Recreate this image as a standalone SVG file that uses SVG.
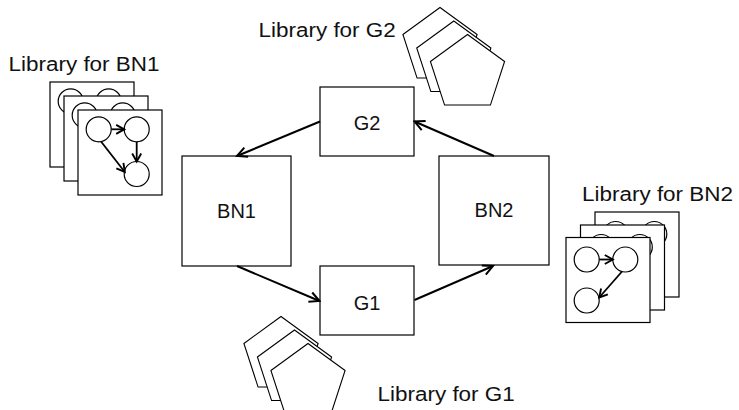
<svg xmlns="http://www.w3.org/2000/svg" width="739" height="410" viewBox="0 0 739 410">
  <style>
    .box { fill: #fff; stroke: #000; stroke-width: 1.2; }
    .lbl { font-family: "Liberation Sans", Arial, sans-serif; font-size: 20px; fill: #111; }
    .lib { font-family: "Liberation Sans", Arial, sans-serif; font-size: 21px; fill: #111; }
    .sheet { fill: #fff; stroke: #000; stroke-width: 1.2; }
    .dot { fill: #fff; stroke: #000; stroke-width: 1.2; }
    .edge { fill: none; stroke: #000; stroke-width: 2; marker-end: url(#head); }
    .link { fill: none; stroke: #000; stroke-width: 1.8; marker-end: url(#headSmall); }
    .pent { fill: #fff; stroke: #000; stroke-width: 1.1; }
  </style>
  <defs>
    <marker id="head" markerUnits="userSpaceOnUse" markerWidth="14" markerHeight="14" viewBox="0 0 14 14" refX="12" refY="7" orient="auto">
      <path d="M2,2 L12,7 L2,12" fill="none" stroke="#000" stroke-width="2"/>
    </marker>
    <marker id="headSmall" markerUnits="userSpaceOnUse" markerWidth="12" markerHeight="12" viewBox="0 0 12 12" refX="10" refY="6" orient="auto">
      <path d="M2,1.5 L10,6 L2,10.5" fill="none" stroke="#000" stroke-width="1.9"/>
    </marker>
    <polygon id="pentagon" class="pent" points="0,-39 37.09,-12.05 22.92,31.55 -22.92,31.55 -37.09,-12.05"/>
  </defs>

  <!-- main nodes -->
  <g id="node-g2">
    <rect class="box" x="320" y="87" width="94" height="69"/>
    <text class="lbl" x="367" y="130" text-anchor="middle">G2</text>
  </g>
  <g id="node-bn1">
    <rect class="box" x="182" y="156" width="109" height="110"/>
    <text class="lbl" x="236.5" y="217.5" text-anchor="middle">BN1</text>
  </g>
  <g id="node-bn2">
    <rect class="box" x="439" y="156" width="110" height="109"/>
    <text class="lbl" x="494" y="217" text-anchor="middle">BN2</text>
  </g>
  <g id="node-g1">
    <rect class="box" x="320" y="266" width="94" height="69"/>
    <text class="lbl" x="367" y="309.5" text-anchor="middle">G1</text>
  </g>

  <!-- cycle of connectors -->
  <g id="connectors">
    <line class="edge" x1="320" y1="121.5" x2="237" y2="156"/>
    <line class="edge" x1="494" y1="156" x2="414.5" y2="121.5"/>
    <line class="edge" x1="237" y1="266" x2="319.5" y2="301"/>
    <line class="edge" x1="414.5" y1="300" x2="493" y2="266"/>
  </g>

  <!-- library of networks for BN1 -->
  <g id="lib-bn1">
    <text class="lib" transform="translate(8.5,71) scale(1.07,1)">Library for BN1</text>
    <rect class="sheet" x="50" y="82" width="84" height="85"/>
    <circle class="dot" cx="70.7" cy="101.3" r="12.5"/>
    <circle class="dot" cx="108.7" cy="101.3" r="12.5"/>
    <rect class="sheet" x="64" y="96" width="84" height="85"/>
    <circle class="dot" cx="84.7" cy="115.3" r="12.5"/>
    <circle class="dot" cx="122.7" cy="115.3" r="12.5"/>
    <rect class="sheet" x="78" y="110" width="84" height="85"/>
    <circle class="dot" cx="98.7" cy="129.3" r="12.5"/>
    <circle class="dot" cx="136.7" cy="129.3" r="12.5"/>
    <circle class="dot" cx="136.7" cy="174" r="12.5"/>
    <line class="link" x1="111.2" y1="129.3" x2="124.2" y2="129.3"/>
    <line class="link" x1="136.7" y1="141.8" x2="136.7" y2="161.5"/>
    <line class="link" x1="101" y1="141.5" x2="124.8" y2="172"/>
  </g>

  <!-- library of networks for BN2 -->
  <g id="lib-bn2">
    <text class="lib" transform="translate(582,201) scale(1.07,1)">Library for BN2</text>
    <rect class="sheet" x="595" y="212" width="84" height="85"/>
    <circle class="dot" cx="615.7" cy="234" r="12.5"/>
    <circle class="dot" cx="654.3" cy="234" r="12.5"/>
    <rect class="sheet" x="580.5" y="225" width="84" height="85"/>
    <circle class="dot" cx="601.2" cy="247" r="12.5"/>
    <circle class="dot" cx="639.8" cy="247" r="12.5"/>
    <rect class="sheet" x="566" y="237.5" width="84" height="85"/>
    <circle class="dot" cx="586.7" cy="259.5" r="12.5"/>
    <circle class="dot" cx="625.3" cy="259.5" r="12.5"/>
    <circle class="dot" cx="586.7" cy="300.5" r="12.5"/>
    <line class="link" x1="599.2" y1="259.5" x2="612.8" y2="259.5"/>
    <line class="link" x1="622" y1="271.5" x2="599.2" y2="297.5"/>
  </g>

  <!-- library of shapes for G2 -->
  <g id="lib-g2">
    <text class="lib" transform="translate(258.5,37) scale(1.07,1)">Library for G2</text>
    <use href="#pentagon" x="440" y="46.5"/>
    <use href="#pentagon" x="453.8" y="60"/>
    <use href="#pentagon" x="467.5" y="73.5"/>
  </g>

  <!-- library of shapes for G1 -->
  <g id="lib-g1">
    <use href="#pentagon" x="281" y="355.5"/>
    <use href="#pentagon" x="294.5" y="369"/>
    <use href="#pentagon" x="308" y="382.5"/>
    <text class="lib" transform="translate(377.5,401) scale(1.07,1)">Library for G1</text>
  </g>
</svg>
